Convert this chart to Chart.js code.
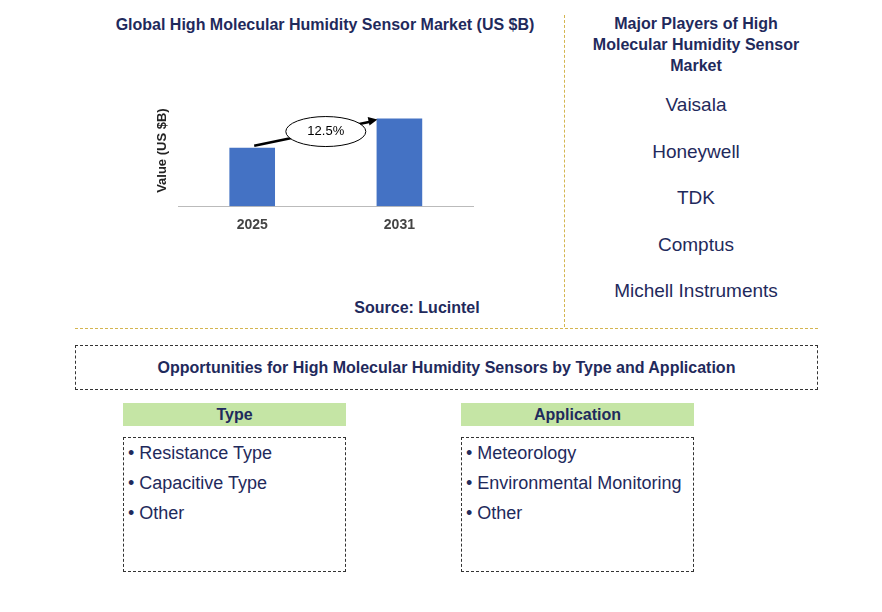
<!DOCTYPE html>
<html>
<head>
<meta charset="utf-8">
<script src="https://cdn.jsdelivr.net/npm/chart.js@4"></script>
<style>
  body { margin: 0; width: 882px; height: 612px; background: #fff; font-family: Arial, "Liberation Sans", sans-serif; position: relative; overflow: hidden; }
  .abs { position: absolute; }
  .title { color: #1f2a5c; font-weight: bold; font-size: 16px; text-align: center; }
  .player { color: #1f2a5c; font-size: 19px; text-align: center; width: 250px; left: 571px; }
  .box { border: 1px dashed #333; box-sizing: border-box; }
  .head { background: #c5e5a5; color: #1f2a5c; font-weight: bold; font-size: 16px; text-align: center; line-height: 23px; }
  .list { color: #1f2a5c; font-size: 18px; line-height: 30px; padding: 0 4px; }
</style>
</head>
<body>
<div class="abs title" style="left:90px; top:16px; width:470px;">Global High Molecular Humidity Sensor Market (US $B)</div>
<div class="abs" style="left:155px; top:95px; width:328px; height:142px;"><canvas id="marketChart" width="328" height="142"></canvas></div>
<div class="abs title" style="left:317px; top:299px; width:200px;">Source: Lucintel</div>

<div class="abs" style="left:564px; top:15px; height:312px; border-left:1px dashed #d4b550;"></div>
<div class="abs" style="left:75px; top:328px; width:743px; border-top:1px dashed #d4b550;"></div>

<div class="abs title" style="left:586px; top:13px; width:220px; line-height:21px;">Major Players of High Molecular Humidity Sensor Market</div>
<div id="players"></div>

<div class="abs box title" style="left:75px; top:345px; width:743px; height:45px; line-height:43px;">Opportunities for High Molecular Humidity Sensors by Type and Application</div>

<div class="abs head" style="left:123px; top:403px; width:223px;">Type</div>
<div class="abs box list" id="typeList" style="left:123px; top:437px; width:223px; height:135px;"></div>
<div class="abs head" style="left:461px; top:403px; width:233px;">Application</div>
<div class="abs box list" id="appList" style="left:461px; top:437px; width:233px; height:135px;"></div>

<script>
const years = ['2025', '2031'];
const marketValues = [1.0, 1.5];
const cagrLabel = '12.5%';
const players = ['Vaisala', 'Honeywell', 'TDK', 'Comptus', 'Michell Instruments'];
const types = ['Resistance Type', 'Capacitive Type', 'Other'];
const applications = ['Meteorology', 'Environmental Monitoring', 'Other'];

players.forEach((p, i) => {
    let d = document.createElement('div');
    d.className = 'abs player';
    d.style.top = (94 + i * 46.5) + 'px';
    d.textContent = p;
    document.body.appendChild(d);
});
document.getElementById('typeList').innerHTML = types.map(t => '• ' + t).join('<br>');
document.getElementById('appList').innerHTML = applications.map(t => '• ' + t).join('<br>');

// arrow + ellipse between the bar tops
const cagrPlugin = {
    id: 'cagr',
    afterDatasetsDraw(chart) {
        const bars = chart.getDatasetMeta(0).data;
        const ctx = chart.ctx;
        const x1 = bars[0].x + 2, y1 = bars[0].y - 2;
        const x2 = bars[1].x - 22, y2 = bars[1].y + 1;
        ctx.save();
        ctx.strokeStyle = '#000';
        ctx.lineWidth = 2.5;
        ctx.beginPath(); ctx.moveTo(x1, y1); ctx.lineTo(x2 - 6, y2 + 2); ctx.stroke();
        const ang = Math.atan2(y2 - y1, x2 - x1);
        ctx.fillStyle = '#000';
        ctx.beginPath();
        ctx.moveTo(x2, y2);
        ctx.lineTo(x2 - 10 * Math.cos(ang - 0.45), y2 - 10 * Math.sin(ang - 0.45));
        ctx.lineTo(x2 - 10 * Math.cos(ang + 0.45), y2 - 10 * Math.sin(ang + 0.45));
        ctx.closePath(); ctx.fill();
        const cx = (bars[0].x + bars[1].x) / 2, cy = (y1 + y2) / 2 - 1;
        ctx.fillStyle = '#fff';
        ctx.lineWidth = 1;
        ctx.beginPath(); ctx.ellipse(cx, cy, 40, 15, 0, 0, Math.PI * 2); ctx.fill(); ctx.stroke();
        ctx.fillStyle = '#000';
        ctx.font = '13px Arial';
        ctx.textAlign = 'center'; ctx.textBaseline = 'middle';
        ctx.fillText(cagrLabel, cx, cy);
        ctx.restore();
    }
};

new Chart(document.getElementById('marketChart'), {
    type: 'bar',
    data: {
        labels: years,
        datasets: [{ data: marketValues, backgroundColor: '#4472c4', barPercentage: 0.62, categoryPercentage: 0.5 }]
    },
    options: {
        responsive: false,
        animation: false,
        layout: { padding: { left: 0, right: 10, top: 0 } },
        plugins: { legend: { display: false }, tooltip: { enabled: false } },
        scales: {
            x: {
                grid: { display: false },
                border: { color: '#bbb' },
                ticks: { color: '#444', font: { family: 'Arial', size: 14, weight: 'bold' } }
            },
            y: {
                min: 0, max: 1.9,
                grid: { display: false },
                border: { display: false },
                ticks: { display: false },
                title: { display: true, padding: 0, text: 'Value (US $B)', color: '#222', font: { family: 'Arial', size: 13, weight: 'bold' } }
            }
        }
    },
    plugins: [cagrPlugin]
});
</script>
</body>
</html>
